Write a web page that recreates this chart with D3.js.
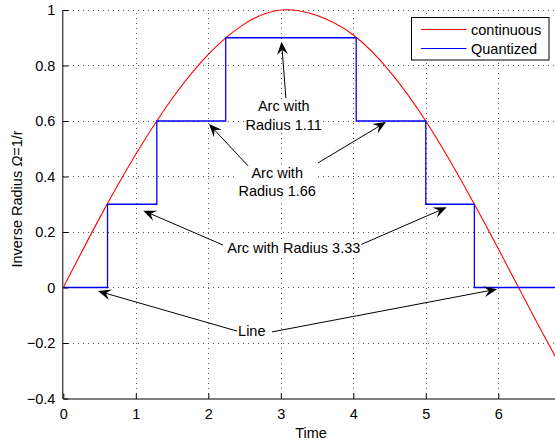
<!DOCTYPE html>
<html>
<head>
<meta charset="utf-8">
<script src="https://cdn.jsdelivr.net/npm/d3@7"></script>
<style>
  html, body { margin: 0; padding: 0; background: #fff; }
  svg { display: block; font-family: "Liberation Sans", Arial, Helvetica, sans-serif; }
</style>
</head>
<body>
<svg id="chart" width="555" height="442"></svg>
<script>
// Axis ticks
const xTicks = [0, 1, 2, 3, 4, 5, 6];
const xTickLabels = ["0", "1", "2", "3", "4", "5", "6"];
const yTicks = [-0.4, -0.2, 0, 0.2, 0.4, 0.6, 0.8, 1];
const yTickLabels = ["\u22120.4", "\u22120.2", "0", "0.2", "0.4", "0.6", "0.8", "1"];

// Continuous inverse radius over time
const contX = [0, 0.5, 1, 1.5, 2, 2.5, 3, 3.5, 4, 4.5, 5, 5.5, 6, 6.5, 7];
const contY = [0, 0.25, 0.48, 0.68, 0.84, 0.95, 1.00, 0.98, 0.91, 0.78, 0.60, 0.38, 0.14, -0.11, -0.35];

// Quantized inverse radius (held until the next change)
const stepX = [0, 0.61, 1.29, 2.24, 4.04, 5.00, 5.67, 7];
const stepY = [0, 0.3, 0.6, 0.9, 0.6, 0.3, 0, 0];

const seriesNames = ["continuous", "Quantized"];
const seriesColors = ["#ff0000", "#0000ff"];

// Callouts: label lines and the arrows pointing from them (data units)
const callouts = [
  { lines: ["Arc with", "Radius 1.11"], at: [3.04, 0.636],
    arrows: [[[3.07, 0.683], [3.01, 0.886]]] },
  { lines: ["Arc with", "Radius 1.66"], at: [2.95, 0.395],
    arrows: [[[2.575, 0.431], [2.01, 0.589]], [[3.513, 0.449], [4.451, 0.596]]] },
  { lines: ["Arc with Radius 3.33"], at: [3.18, 0.124],
    arrows: [[[2.203, 0.153], [1.103, 0.277]], [[4.092, 0.153], [5.288, 0.289]]] },
  { lines: ["Line"], at: [2.6, -0.175],
    arrows: [[[2.396, -0.157], [0.479, -0.013]], [[2.879, -0.160], [5.982, -0.006]]] }
];

const svg = d3.select("#chart");
const W = 555, H = 442;
const plotLeft = 63.3, plotTop = 10, plotBottom = 398.5;
const unitX = 72.5;

const x = d3.scaleLinear().domain([0, 7]).range([plotLeft, plotLeft + 7 * unitX]);
const y = d3.scaleLinear().domain([-0.4, 1]).range([plotBottom, plotTop]);

const FONT = 14.5;

svg.append("defs").append("clipPath").attr("id", "plot")
  .append("rect").attr("x", plotLeft).attr("y", plotTop - 1)
  .attr("width", W - plotLeft).attr("height", plotBottom - plotTop + 2);

// Dotted grid
const grid = svg.append("g").attr("stroke", "#555").attr("stroke-width", 1)
  .attr("stroke-dasharray", "1 4").attr("shape-rendering", "crispEdges");
grid.selectAll("line.gx").data(xTicks.filter(d => d > 0)).join("line")
  .attr("x1", d => Math.round(x(d)) + 0.5).attr("x2", d => Math.round(x(d)) + 0.5)
  .attr("y1", plotBottom).attr("y2", plotTop);
grid.selectAll("line.gy").data(yTicks.filter(d => d > -0.4)).join("line")
  .attr("y1", d => Math.round(y(d)) + 0.5).attr("y2", d => Math.round(y(d)) + 0.5)
  .attr("x1", plotLeft).attr("x2", W);

// Series
const plot = svg.append("g").attr("clip-path", "url(#plot)");
const contLine = d3.line().x(d => x(d[0])).y(d => y(d[1])).curve(d3.curveNatural);
plot.append("path").datum(contX.map((v, i) => [v, contY[i]]))
  .attr("d", contLine).attr("fill", "none").attr("stroke", seriesColors[0]).attr("stroke-width", 1.1);
const stepLine = d3.line().x(d => x(d[0])).y(d => y(d[1])).curve(d3.curveStepAfter);
plot.append("path").datum(stepX.map((v, i) => [v, stepY[i]]))
  .attr("d", stepLine).attr("fill", "none").attr("stroke", seriesColors[1]).attr("stroke-width", 1.3);

// Axes
const xAxis = d3.axisBottom(x).tickValues(xTicks).tickFormat((d, i) => xTickLabels[i])
  .tickSizeInner(-5).tickSizeOuter(0).tickPadding(10);
const gx = svg.append("g").attr("transform", `translate(0,${plotBottom})`).call(xAxis);
gx.select(".domain").attr("d", `M${plotLeft},0.5H${W}`).attr("stroke", "#000");
gx.selectAll(".tick line").attr("stroke", "#000");
gx.selectAll(".tick text").attr("font-size", FONT).attr("fill", "#000")
  .attr("font-family", "Liberation Sans, Arial, sans-serif").attr("dy", "0.72em");

const yAxis = d3.axisLeft(y).tickValues(yTicks).tickFormat((d, i) => yTickLabels[i])
  .tickSizeInner(-5).tickSizeOuter(0).tickPadding(8);
const gy = svg.append("g").attr("transform", `translate(${plotLeft},0)`).call(yAxis);
gy.select(".domain").attr("d", `M-0.5,${plotTop}V${plotBottom + 0.5}`).attr("stroke", "#000");
gy.selectAll(".tick line").attr("stroke", "#000");
gy.selectAll(".tick text").attr("font-size", FONT).attr("fill", "#000")
  .attr("font-family", "Liberation Sans, Arial, sans-serif");

// Axis titles
svg.append("text").attr("x", 311).attr("y", 438).attr("text-anchor", "middle")
  .attr("font-size", FONT).text("Time");
const yl = svg.append("text").attr("transform", "translate(22,199) rotate(-90)")
  .attr("text-anchor", "middle").attr("font-size", FONT);
yl.append("tspan").text("Inverse Radius ");
yl.append("tspan").attr("font-style", "italic").text("\u03A9");
yl.append("tspan").text("=1/r");

// Callout arrows
const arrows = svg.append("g");
function drawArrow(p0, p1) {
  const x0 = x(p0[0]), y0 = y(p0[1]), x1 = x(p1[0]), y1 = y(p1[1]);
  const dx = x1 - x0, dy = y1 - y0, len = Math.hypot(dx, dy);
  const ux = dx / len, uy = dy / len, nx = -uy, ny = ux;
  const L = 13, Wd = 5.5, notch = 0.62 * L;
  arrows.append("line").attr("x1", x0).attr("y1", y0)
    .attr("x2", x1 - ux * notch).attr("y2", y1 - uy * notch)
    .attr("stroke", "#000").attr("stroke-width", 1);
  const pts = [
    [x1, y1],
    [x1 - ux * L + nx * Wd, y1 - uy * L + ny * Wd],
    [x1 - ux * notch, y1 - uy * notch],
    [x1 - ux * L - nx * Wd, y1 - uy * L - ny * Wd]
  ];
  arrows.append("path").attr("d", "M" + pts.map(p => p.join(",")).join("L") + "Z").attr("fill", "#000");
}
callouts.forEach(c => c.arrows.forEach(a => drawArrow(a[0], a[1])));

// Callout labels on a white backing
const labels = svg.append("g");
callouts.forEach(c => {
  const g = labels.append("g");
  const t = g.append("text").attr("text-anchor", "middle").attr("font-size", FONT).attr("fill", "#000");
  c.lines.forEach((s, i) => {
    t.append("tspan").attr("x", x(c.at[0])).attr("y", y(c.at[1]) + i * 18.5).text(s);
  });
  const bb = t.node().getBBox();
  g.insert("rect", "text").attr("x", bb.x - 1).attr("y", bb.y + 1)
    .attr("width", bb.width + 2).attr("height", bb.height - 2).attr("fill", "#fff");
});

// Legend
const lg = svg.append("g").attr("transform", "translate(411.5,17.5)");
lg.append("rect").attr("width", 137.5).attr("height", 42.5)
  .attr("fill", "#fff").attr("stroke", "#000").attr("stroke-width", 1);
seriesNames.forEach((name, i) => {
  const yy = 12 + i * 19;
  lg.append("line").attr("x1", 9.5).attr("x2", 55).attr("y1", yy).attr("y2", yy)
    .attr("stroke", seriesColors[i]).attr("stroke-width", 1.1);
  lg.append("text").attr("x", 59.5).attr("y", yy + 5).attr("font-size", FONT).text(name);
});
</script>
</body>
</html>
